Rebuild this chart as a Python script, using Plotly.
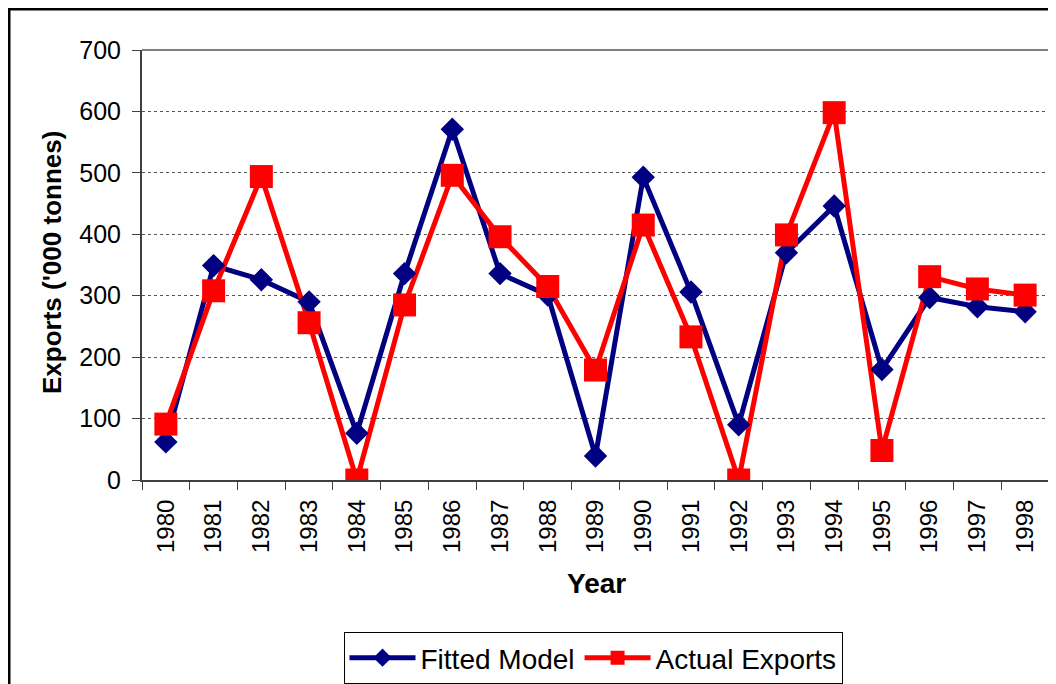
import plotly.graph_objects as go

years = [str(y) for y in range(1980, 1999)]
fitted = [62, 349, 326, 290, 76, 336, 571, 336, 301, 39, 493, 306, 90, 370, 446, 180, 297, 282, 274]
actual = [91, 308, 494, 256, 0, 285, 496, 396, 315, 179, 415, 233, 0, 399, 598, 48, 331, 311, 301]
y_ticks = [0, 100, 200, 300, 400, 500, 600, 700]

BLUE = "#000080"
RED = "#FF0000"
FONT = "Arial, Liberation Sans, sans-serif"

# page has an 8px body margin: figure occupies viewport from (8, 8)
OFF = 8
W, H = 1056 - OFF, 684 - OFF
L, R, T = 142 - OFF, 1056 - 1049, 50 - OFF
B = H - (480 - OFF)
PW, PH = W - L - R, H - T - B


def px_x(p):  # viewport x pixel -> paper
    return (p - OFF - L) / PW


def px_y(p):  # viewport y pixel -> paper
    return (H - B - (p - OFF)) / PH


fig = go.Figure()
# lines first (Excel draws lines under markers)
fig.add_trace(go.Scatter(x=years, y=fitted, mode="lines", line=dict(color=BLUE, width=5),
                         showlegend=False, hoverinfo="skip"))
fig.add_trace(go.Scatter(x=years, y=actual, mode="lines", line=dict(color=RED, width=5),
                         showlegend=False, hoverinfo="skip"))
fig.add_trace(go.Scatter(x=years, y=fitted, mode="markers",
                         marker=dict(symbol="diamond", size=18, color=BLUE, line=dict(width=0)),
                         showlegend=False, name="Fitted Model"))
fig.add_trace(go.Scatter(x=years, y=actual, mode="markers",
                         marker=dict(symbol="square", size=23, color=RED, line=dict(width=0)),
                         showlegend=False, name="Actual Exports"))
# legend entries
fig.add_trace(go.Scatter(x=[years[0]], y=[None], mode="lines+markers", name="Fitted Model",
                         line=dict(color=BLUE, width=5),
                         marker=dict(symbol="diamond", size=14, color=BLUE)))
fig.add_trace(go.Scatter(x=[years[0]], y=[None], mode="lines+markers", name="Actual Exports",
                         line=dict(color=RED, width=5),
                         marker=dict(symbol="square", size=14, color=RED)))

fig.update_layout(
    width=W, height=H,
    margin=dict(l=L, r=R, t=T, b=B, autoexpand=False),
    paper_bgcolor="white", plot_bgcolor="white",
    font=dict(family=FONT, size=25, color="black"),
    showlegend=True,
    legend=dict(orientation="h", x=px_x(593), xanchor="center", y=px_y(632), yanchor="top",
                bordercolor="#000000", borderwidth=1, bgcolor="white",
                font=dict(family=FONT, size=28, color="black"),
                itemwidth=66, tracegroupgap=0),
    xaxis=dict(type="category", categoryorder="array", categoryarray=years,
               range=[-0.5, len(years) - 0.5],
               tickangle=-90, ticks="outside", ticklen=8, tickcolor="#404040",
               tickson="boundaries", showgrid=False, ticklabelstandoff=8,
               showline=True, linecolor="#404040", linewidth=2,
               tickfont=dict(family=FONT, size=24, color="black"),
               automargin=False, fixedrange=True),
    yaxis=dict(range=[0, 700], tickvals=y_ticks, ticktext=[str(v) for v in y_ticks],
               ticks="outside", ticklen=8, tickcolor="#404040", ticklabelstandoff=6,
               showgrid=True, gridcolor="#555555", gridwidth=1, griddash="3px,3px",
               showline=True, linecolor="#404040", linewidth=2, zeroline=False,
               tickfont=dict(family=FONT, size=25, color="black"),
               automargin=False, fixedrange=True),
    annotations=[
        dict(text="<b>Exports ('000 tonnes)</b>", xref="paper", yref="paper",
             x=px_x(52), y=px_y(263), xanchor="center", yanchor="middle", textangle=-90,
             showarrow=False, font=dict(family=FONT, size=26, color="black")),
        dict(text="<b>Year</b>", xref="paper", yref="paper",
             x=px_x(596), y=px_y(583), xanchor="center", yanchor="middle",
             showarrow=False, font=dict(family=FONT, size=28, color="black")),
    ],
    shapes=[
        # plot area frame (top/right gray)
        dict(type="line", xref="paper", yref="paper", x0=0, x1=1, y0=1, y1=1,
             line=dict(color="#808080", width=2), layer="above"),
        dict(type="line", xref="paper", yref="paper", x0=1, x1=1, y0=0, y1=1,
             line=dict(color="#808080", width=2), layer="above"),
        # outer chart border
        dict(type="rect", xref="paper", yref="paper",
             x0=px_x(9), x1=px_x(1070), y0=px_y(9), y1=px_y(700),
             line=dict(color="black", width=3), fillcolor="rgba(0,0,0,0)", layer="below"),
    ],
)

fig.write_html("out.html")
